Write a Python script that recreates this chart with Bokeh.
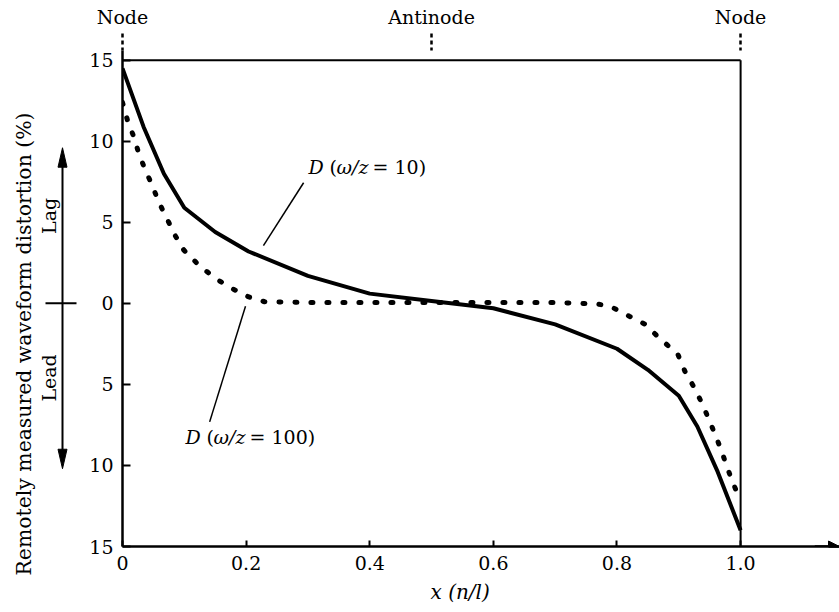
import math

from bokeh.core.properties import value
from bokeh.embed import file_html
from bokeh.layouts import row
from bokeh.models import (Arrow, CustomJSTickFormatter, FixedTicker,
                          LinearAxis, NormalHead, Range1d)
from bokeh.plotting import figure
from bokeh.resources import INLINE

FONT = "DejaVu Serif"
FS = "19px"

# Remotely measured waveform distortion D (%) along the line, x = n/l
# omega/z = 10 (solid curve)
x_w10 = [0.0, 0.034, 0.067, 0.10, 0.15, 0.204, 0.30, 0.40, 0.50, 0.60,
         0.70, 0.80, 0.85, 0.90, 0.93, 0.963, 1.0]
d_w10 = [14.5, 10.9, 8.0, 5.9, 4.4, 3.2, 1.7, 0.6, 0.15, -0.3,
         -1.3, -2.8, -4.1, -5.7, -7.6, -10.4, -14.0]

# omega/z = 100 (dotted curve)
x_w100 = [0.0, 0.008, 0.018, 0.026, 0.037, 0.048, 0.058, 0.071, 0.085, 0.099,
          0.125, 0.152, 0.178, 0.204, 0.23, 0.30, 0.40, 0.50, 0.60, 0.70,
          0.74, 0.77, 0.79, 0.82, 0.846, 0.87, 0.898, 0.91, 0.925, 0.938,
          0.948, 0.96, 0.97, 0.979, 0.989, 1.0]
d_w100 = [12.4, 11.3, 10.3, 9.3, 8.2, 7.3, 6.3, 5.3, 4.2, 3.3,
          2.3, 1.5, 0.9, 0.4, 0.1, 0.05, 0.05, 0.05, 0.05, 0.05,
          0.0, -0.05, -0.2, -0.8, -1.3, -2.2, -3.1, -4.2, -5.2, -6.2,
          -7.1, -8.2, -9.2, -10.2, -11.2, -12.2]

x_ticks = [0, 0.2, 0.4, 0.6, 0.8, 1.0]
y_ticks = [-15, -10, -5, 0, 5, 10, 15]
top_ticks = [0, 0.5, 1.0]
top_labels = ["Node", "Antinode", "Node"]

H = 612
TOP = 50
BOTTOM = 66
y_range = Range1d(-15, 15.6)

# ---------------------------------------------------------------- main panel
# the x-axis title is the plot title, placed below the axis and set a little
# left of the frame centre
p = figure(width=761, height=H, x_range=Range1d(0, 1.16), y_range=y_range,
           output_backend="svg", toolbar_location=None,
           title="x (n/l)", title_location="below",
           min_border_left=44, min_border_right=0,
           min_border_top=TOP, min_border_bottom=BOTTOM)
p.outline_line_color = None
p.grid.visible = False
p.background_fill_color = "white"
p.border_fill_color = "white"
p.title.text_font = FONT
p.title.text_font_size = "20px"
p.title.text_font_style = "italic"
p.title.text_color = "black"
p.title.align = "left"
p.title.offset = 308
p.title.standoff = 10

xa = p.xaxis[0]
xa.ticker = FixedTicker(ticks=x_ticks)
xa.formatter = CustomJSTickFormatter(code="return tick == 0 ? '0' : tick.toFixed(1);")
ya = p.yaxis[0]
ya.ticker = FixedTicker(ticks=y_ticks)
ya.formatter = CustomJSTickFormatter(code="return Math.abs(tick).toFixed(0);")
for ax in (xa, ya):
    ax.axis_line_width = 2.5
    ax.axis_line_color = "black"
    ax.major_tick_line_width = 2
    ax.major_tick_line_color = "black"
    ax.minor_tick_line_color = None
    ax.major_tick_out = 0
    ax.major_label_text_font = FONT
    ax.major_label_text_font_size = FS
    ax.major_label_text_color = "black"
xa.major_tick_in = 6
xa.major_label_standoff = 9
ya.major_tick_in = 8
ya.major_label_standoff = 9

top = LinearAxis(
    ticker=FixedTicker(ticks=top_ticks),
    formatter=CustomJSTickFormatter(
        args=dict(node_pos=top_ticks, node_names=top_labels),
        code="const i = node_pos.findIndex(t => Math.abs(t - tick) < 1e-9);"
             "return i >= 0 ? node_names[i] : '';"),
    axis_line_color=None, minor_tick_line_color=None,
    major_tick_in=0, major_tick_out=17, major_tick_line_width=2.5,
    major_tick_line_dash="4 3", major_tick_line_color="black",
    major_label_standoff=6, major_label_text_font=FONT,
    major_label_text_font_size=FS, major_label_text_color="black")
p.add_layout(top, "above")

# frame: top edge at the upper limit, right edge at x = 1
p.segment(x0=[x_ticks[0], x_ticks[-1]], y0=[y_ticks[-1], y_ticks[0]],
          x1=[x_ticks[-1], x_ticks[-1]], y1=[y_ticks[-1], y_ticks[-1]],
          line_color="black", line_width=2)

# arrow head at the end of the x axis
p.add_layout(Arrow(end=NormalHead(size=11, fill_color="black", line_color="black"),
                   x_start=1.12, y_start=-15, x_end=1.16, y_end=-15,
                   line_width=2.5, line_color="black"))

p.line(x_w10, d_w10, line_color="black", line_width=4)
p.line(x_w100, d_w100, line_color="black", line_width=5,
       line_dash="2 14", line_cap="round")

# curve annotations
p.segment(x0=[0.293, 0.199], y0=[7.44, -0.18], x1=[0.228, 0.141], y1=[3.56, -7.31],
          line_color="black", line_width=1.5)


def curve_label(x, y, num):
    pieces = [("D", "italic", 0), ("(", "normal", 21), ("ω/z", "italic", 28),
              ("= " + num + ")", "normal", 64)]
    for txt, style, off in pieces:
        p.text(x=[x], y=[y], text=[txt], x_offset=off, text_font=value(FONT),
               text_font_size=FS, text_font_style=style, text_align="left",
               text_baseline="middle", text_color="black")


curve_label(0.301, 8.42, "10")
curve_label(0.102, -8.24, "100")

# ---------------------------------------------------------------- left strip
# the vertical axis title is this strip's plot title, running up from a
# little below the bottom of the frame
STRIP_W = 78
STRIP_L = 40
q = figure(width=STRIP_W, height=H, x_range=Range1d(STRIP_L, STRIP_W),
           y_range=y_range,
           output_backend="svg", toolbar_location=None,
           x_axis_location=None, y_axis_location=None,
           title="Remotely measured waveform distortion (%)", title_location="left",
           min_border_left=STRIP_L, min_border_right=0,
           min_border_top=TOP, min_border_bottom=BOTTOM)
q.outline_line_color = None
q.grid.visible = False
q.title.text_font = FONT
q.title.text_font_size = "20.4px"
q.title.text_font_style = "normal"
q.title.text_color = "black"
q.title.align = "left"
q.title.offset = -29
q.title.standoff = 9

q.text(x=[48, 48], y=[5.4, -4.6], text=["Lag", "Lead"], angle=math.pi / 2,
       text_font=value(FONT), text_font_size=FS,
       text_align="center", text_baseline="middle", text_color="black")

# Lag / Lead double arrow and zero mark
q.segment(x0=[62, 45], y0=[8.6, 0], x1=[62, 76], y1=[-9.2, 0],
          line_color="black", line_width=2)
q.patches(xs=[[62, 57.5, 66.5], [62, 57.5, 66.5]],
          ys=[[9.6, 8.4, 8.4], [-10.2, -9.0, -9.0]],
          fill_color="black", line_color="black")

layout = row(q, p)
open("out.html", "w").write(file_html(layout, INLINE))
